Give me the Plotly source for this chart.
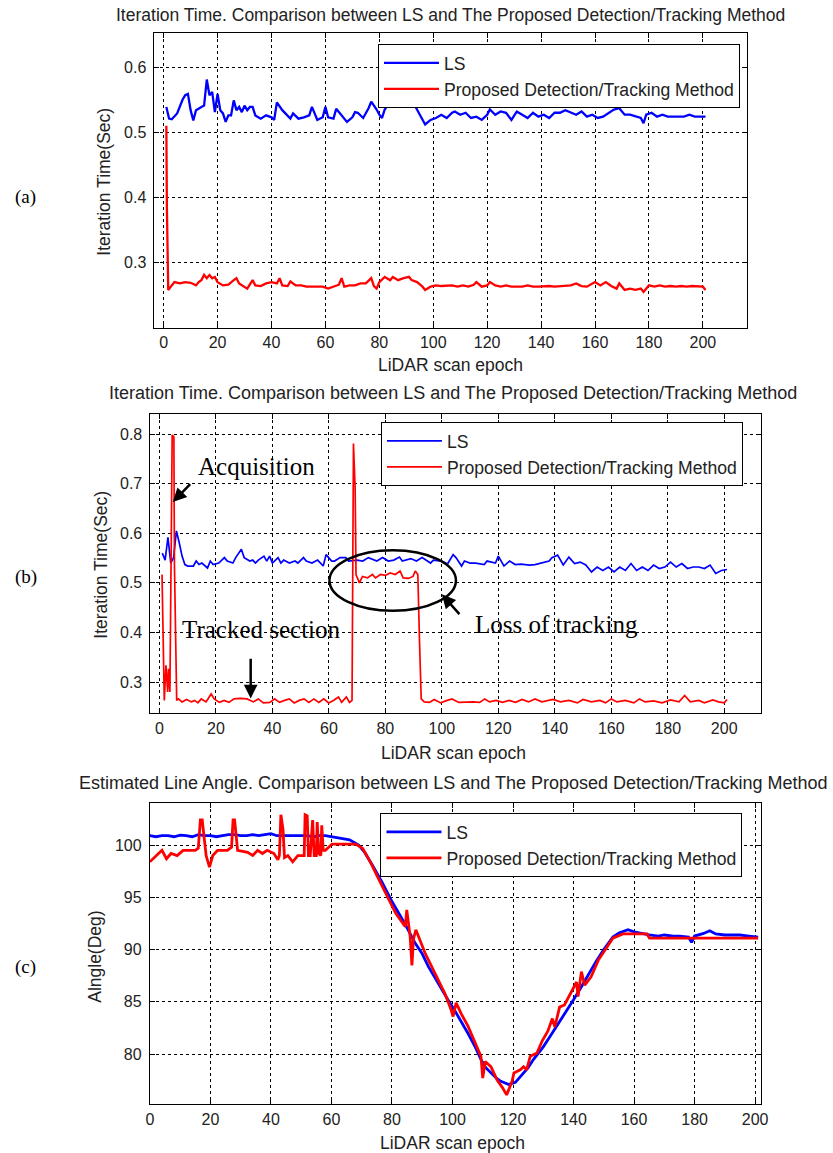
import plotly.graph_objects as go

# ---------------- data ----------------
# Panel (a): iteration time
A_LS_X = [1, 2, 3, 5, 7, 8, 9, 10, 11, 12, 14, 15, 16, 17, 18, 19, 20, 21, 22, 23, 24, 25, 26, 27, 28, 29, 30, 31,
          32, 33, 34, 36, 38, 40, 41, 42, 44, 46, 47, 48, 50, 52, 54, 55, 56, 57, 59, 60, 61, 63, 64, 66, 68, 70, 71,
          72, 74, 76, 77, 79, 80, 81, 82, 84, 85, 86, 88, 90, 91, 92, 94, 96, 97, 99, 101, 103, 105, 107, 108, 110,
          112, 114, 116, 118, 120, 121, 123, 125, 127, 129, 131, 133, 135, 137, 139, 141, 143, 145, 147, 149, 151,
          153, 155, 157, 159, 161, 163, 165, 167, 169, 171, 173, 175, 177, 178, 179, 181, 183, 185, 187, 190, 193,
          195, 197, 199, 201]
A_LS_Y = [0.539, 0.521, 0.520, 0.529, 0.550, 0.557, 0.559, 0.534, 0.518, 0.534, 0.539, 0.541, 0.581, 0.557, 0.562,
          0.531, 0.559, 0.534, 0.529, 0.516, 0.526, 0.526, 0.549, 0.534, 0.539, 0.531, 0.541, 0.534, 0.539, 0.539,
          0.526, 0.521, 0.526, 0.523, 0.519, 0.546, 0.534, 0.526, 0.521, 0.529, 0.521, 0.523, 0.526, 0.539, 0.529,
          0.519, 0.523, 0.539, 0.523, 0.521, 0.536, 0.526, 0.516, 0.523, 0.531, 0.530, 0.522, 0.537, 0.547, 0.535,
          0.527, 0.522, 0.535, 0.547, 0.545, 0.552, 0.550, 0.552, 0.545, 0.550, 0.535, 0.519, 0.512, 0.519, 0.522,
          0.527, 0.522, 0.530, 0.532, 0.527, 0.530, 0.522, 0.524, 0.519, 0.527, 0.535, 0.527, 0.532, 0.530, 0.519,
          0.532, 0.527, 0.522, 0.530, 0.524, 0.527, 0.522, 0.530, 0.530, 0.534, 0.530, 0.527, 0.532, 0.524, 0.527,
          0.522, 0.524, 0.530, 0.535, 0.537, 0.527, 0.527, 0.524, 0.522, 0.514, 0.527, 0.530, 0.524, 0.527, 0.524,
          0.524, 0.524, 0.527, 0.524, 0.524, 0.524]

A_PR_X = [1, 1.2, 1.7, 2.5, 4, 6, 8, 10, 12, 13, 14, 15, 16, 17, 18, 19, 20, 22, 24, 26, 27, 28, 30, 31, 33, 34, 36,
          38, 40, 42, 43, 44, 46, 47, 49, 51, 53, 55, 57, 59, 61, 63, 65, 66, 67, 69, 71, 73, 75, 77, 78, 79, 80, 82,
          84, 85, 87, 89, 91, 92, 94, 96, 97, 99, 101, 103, 105, 107, 109, 111, 113, 115, 116, 118, 120, 121, 123,
          125, 127, 129, 131, 133, 135, 137, 139, 141, 143, 145, 147, 149, 151, 153, 155, 157, 159, 160, 162, 164,
          166, 168, 169, 171, 173, 175, 177, 178, 180, 182, 184, 186, 188, 190, 192, 194, 196, 198, 200, 201]
A_PR_Y = [0.510, 0.385, 0.258, 0.262, 0.270, 0.268, 0.270, 0.269, 0.265, 0.270, 0.273, 0.281, 0.276, 0.281, 0.276,
          0.278, 0.270, 0.265, 0.266, 0.273, 0.276, 0.268, 0.263, 0.260, 0.273, 0.265, 0.264, 0.268, 0.270, 0.268,
          0.276, 0.265, 0.264, 0.271, 0.265, 0.265, 0.263, 0.263, 0.264, 0.263, 0.260, 0.263, 0.266, 0.276, 0.263,
          0.265, 0.265, 0.268, 0.268, 0.276, 0.264, 0.260, 0.270, 0.278, 0.273, 0.278, 0.273, 0.276, 0.278, 0.273,
          0.270, 0.263, 0.258, 0.263, 0.265, 0.264, 0.264, 0.265, 0.263, 0.265, 0.263, 0.266, 0.270, 0.263, 0.265,
          0.270, 0.265, 0.263, 0.265, 0.263, 0.263, 0.263, 0.265, 0.263, 0.263, 0.264, 0.264, 0.263, 0.264, 0.265,
          0.265, 0.268, 0.264, 0.263, 0.268, 0.270, 0.265, 0.270, 0.264, 0.260, 0.268, 0.258, 0.260, 0.258, 0.260,
          0.255, 0.265, 0.263, 0.265, 0.263, 0.264, 0.263, 0.264, 0.263, 0.264, 0.264, 0.263, 0.258]

# Panel (b): iteration time with loss of tracking
B_LS_X = [1, 2, 3, 4, 5, 6, 7, 8, 9, 10, 12, 13, 14, 15, 17, 18, 19, 21, 23, 24, 26, 27, 29, 30, 32, 33, 34, 35,
          37, 38, 39, 40, 42, 43, 44, 46, 48, 49, 51, 52, 54, 56, 58, 59, 61, 62, 64, 66, 67, 70, 72, 74, 77, 79,
          81, 83, 85, 86, 89, 91, 93, 96, 97, 100, 102, 104, 105, 107, 108, 110, 112, 115, 116, 119, 120, 122, 124,
          126, 128, 131, 133, 135, 138, 139, 141, 143, 145, 147, 149, 151, 153, 155, 157, 159, 161, 163, 165, 167,
          169, 171, 173, 175, 177, 179, 181, 183, 185, 187, 189, 191, 193, 195, 197, 199, 201]
B_LS_Y = [0.560, 0.546, 0.592, 0.540, 0.551, 0.605, 0.581, 0.554, 0.537, 0.534, 0.534, 0.544, 0.537, 0.540, 0.530,
          0.544, 0.537, 0.540, 0.551, 0.544, 0.540, 0.551, 0.568, 0.551, 0.544, 0.546, 0.540, 0.546, 0.554, 0.544,
          0.554, 0.540, 0.551, 0.540, 0.546, 0.540, 0.544, 0.540, 0.551, 0.544, 0.540, 0.546, 0.534, 0.557, 0.544,
          0.544, 0.551, 0.551, 0.544, 0.546, 0.544, 0.551, 0.544, 0.551, 0.544, 0.546, 0.552, 0.544, 0.549, 0.544,
          0.551, 0.540, 0.546, 0.544, 0.538, 0.557, 0.551, 0.534, 0.544, 0.540, 0.540, 0.537, 0.544, 0.540, 0.554,
          0.534, 0.544, 0.537, 0.538, 0.536, 0.537, 0.540, 0.544, 0.551, 0.556, 0.536, 0.552, 0.539, 0.542, 0.536,
          0.522, 0.532, 0.525, 0.532, 0.522, 0.532, 0.525, 0.539, 0.525, 0.532, 0.525, 0.536, 0.529, 0.532, 0.542,
          0.532, 0.539, 0.529, 0.532, 0.532, 0.529, 0.536, 0.519, 0.525, 0.527]

B_PR_X = [0.9, 1.3, 1.7, 2.3, 2.9, 3.2, 3.7, 4.5, 5.1, 5.3, 6.1, 6.7, 8.0, 9.6, 11.3, 12.5, 13.6, 14.8, 16.5, 18.3,
          19.4, 21.2, 22.9, 24.6, 26.4, 28.7, 31.0, 33.3, 35.0, 36.8, 39.1, 40.8, 42.5, 44.3, 46.0, 47.7, 49.5,
          51.2, 52.9, 54.7, 56.4, 58.2, 59.9, 61.6, 63.4, 64.5, 66.2, 67.3, 68.2, 68.7, 69.3, 69.6, 70.2, 70.8,
          71.9, 73.7, 75.4, 76.5, 78.3, 80.0, 81.7, 83.5, 85.2, 86.3, 88.1, 89.8, 90.6, 91.5, 92.1, 92.7, 93.8,
          95.6, 97.3, 99.6, 101.9, 103.6, 106.0, 108.8, 111.1, 113.4, 115.2, 116.9, 119.2, 121.5, 123.8, 126.1,
          128.4, 130.7, 133.0, 135.4, 137.7, 139.4, 142, 145, 148, 150, 153, 156, 158, 160, 162, 165, 168, 170, 172,
          175, 178, 181, 184, 186, 188, 191, 193, 196, 198, 200, 201]
B_PR_Y = [0.517, 0.395, 0.263, 0.334, 0.280, 0.327, 0.280, 0.798, 0.795, 0.537, 0.263, 0.266, 0.260, 0.265, 0.260,
          0.263, 0.258, 0.266, 0.260, 0.276, 0.266, 0.259, 0.263, 0.259, 0.266, 0.267, 0.266, 0.260, 0.266, 0.258,
          0.259, 0.266, 0.259, 0.263, 0.266, 0.258, 0.263, 0.266, 0.259, 0.266, 0.259, 0.266, 0.258, 0.263, 0.270,
          0.259, 0.270, 0.259, 0.263, 0.781, 0.690, 0.517, 0.510, 0.500, 0.513, 0.510, 0.517, 0.510, 0.517, 0.515,
          0.520, 0.517, 0.524, 0.510, 0.509, 0.513, 0.524, 0.517, 0.381, 0.266, 0.260, 0.259, 0.265, 0.258, 0.263,
          0.266, 0.259, 0.260, 0.260, 0.259, 0.266, 0.260, 0.263, 0.259, 0.263, 0.259, 0.265, 0.260, 0.266, 0.260,
          0.263, 0.265, 0.260, 0.263, 0.258, 0.265, 0.260, 0.263, 0.258, 0.266, 0.260, 0.263, 0.258, 0.266, 0.260,
          0.262, 0.258, 0.264, 0.260, 0.273, 0.260, 0.263, 0.258, 0.264, 0.260, 0.258, 0.265]

# Panel (c): estimated line angle
C_LS_X = [0, 2, 4, 6, 8, 10, 12, 14, 16, 18, 20, 22, 24, 26, 28, 30, 32, 34, 36, 38, 40, 42, 44, 46, 48, 50, 52,
          54, 56, 58, 60, 63, 66, 69, 71, 73.5, 76.8, 80, 82, 84.4, 87.7, 90, 92, 94, 96.4, 98.5, 100.7, 103,
          105.1, 107.5, 109.4, 111, 112.7, 114.5, 116, 118.6, 120.8, 122, 123.5, 125, 126.8, 130, 132.5, 135,
          137.5, 140, 142.5, 145, 147.5, 150, 153, 155, 158, 160, 163, 165, 168, 170, 173, 175, 178, 179, 180,
          183, 185, 187, 190, 193, 195, 198, 201]
C_LS_Y = [100.9, 100.8, 100.9, 100.9, 100.8, 100.95, 100.9, 100.8, 101.0, 100.9, 100.9, 100.8, 100.9, 101.0, 101.0,
          100.9, 100.9, 101.0, 100.9, 101.0, 101.1, 100.9, 100.9, 100.9, 100.9, 100.9, 100.9, 100.8, 100.9, 100.9,
          100.8, 100.7, 100.5, 100.0, 99.3, 98.1, 96.4, 94.6, 93.6, 92.4, 90.6, 89.6, 88.4, 87.4, 86.2, 85.2, 84.2,
          83.1, 82.0, 80.7, 79.5, 78.7, 78.2, 77.7, 77.4, 77.1, 77.3, 77.7, 78.2, 78.7, 79.5, 80.7, 81.8, 82.9,
          84.0, 85.2, 86.4, 87.7, 88.9, 90.0, 91.2, 91.6, 91.9, 91.7, 91.5, 91.4, 91.3, 91.4, 91.3, 91.3, 91.2,
          90.7, 91.3, 91.55, 91.8, 91.5, 91.4, 91.4, 91.4, 91.3, 91.2]

C_PR_X = [0, 1, 2, 4, 5.5, 7, 9, 11, 13, 15, 16, 16.7, 17.3, 18, 18.6, 19.7, 20.8, 22.4, 25.6, 27, 27.5, 28, 28.6,
          29, 32.3, 34, 35.6, 37.2, 38.8, 41, 42.3, 42.8, 43.3, 44, 44.5, 45.6, 47.2, 48.9, 51, 51.3, 52, 52.4, 53,
          53.8, 54.3, 55, 55.3, 55.8, 56.5, 56.8, 57.3, 58, 60.2, 62, 65, 68, 70.3, 73, 75.7, 79, 81.2, 84.4, 84.9,
          86, 86.6, 87.1, 87.9, 90.9, 93, 95.3, 97.5, 99.6, 100.2, 101.2, 103, 105.1, 107, 109.4, 110, 110.8,
          112.7, 114.8, 116.5, 117.9, 119.7, 120.3, 122.4, 123.5, 124.5, 125.7, 127.9, 129.7, 131.5, 133, 133.8,
          135.4, 137, 139.4, 141, 141.5, 142.6, 143.7, 145.8, 148.2, 150.6, 153, 156.3, 160.3, 164.3, 165.1, 170,
          180, 190, 201]
C_PR_Y = [98.4, 98.7, 99.0, 99.5, 98.7, 99.2, 99.0, 99.5, 99.5, 99.5, 99.7, 102.4, 102.4, 100.6, 99.0, 97.9, 99.0,
          99.5, 99.5, 99.8, 102.4, 102.4, 100.4, 99.5, 99.3, 99.0, 99.5, 99.2, 99.5, 99.2, 98.6, 99.0, 102.9, 101.5,
          98.8, 99.0, 98.4, 99.0, 99.0, 102.9, 102.8, 99.0, 99.0, 102.4, 99.0, 99.0, 102.2, 99.2, 99.0, 101.9, 99.5,
          99.5, 100.1, 100.1, 100.1, 100.1, 99.7, 98.3, 96.7, 94.8, 93.5, 92.2, 93.8, 91.3, 88.5, 91.0, 91.9, 89.7,
          88.5, 87.1, 85.8, 84.2, 83.6, 84.9, 83.8, 82.7, 81.4, 79.8, 77.7, 79.3, 78.8, 77.5, 76.8, 76.1, 77.4,
          78.2, 78.5, 78.8, 78.5, 79.8, 80.1, 81.3, 82.2, 83.4, 82.6, 84.5, 84.7, 86.1, 86.9, 85.5, 87.9, 86.6,
          87.4, 89.0, 90.1, 91.1, 91.5, 91.5, 91.5, 91.1, 91.1, 91.1, 91.1, 91.1]

X_TICKS = [0, 20, 40, 60, 80, 100, 120, 140, 160, 180, 200]
A_Y_TICKS = [0.3, 0.4, 0.5, 0.6]
B_Y_TICKS = [0.3, 0.4, 0.5, 0.6, 0.7, 0.8]
C_Y_TICKS = [80, 85, 90, 95, 100]

NAME_LS = "LS"
NAME_PR = "Proposed Detection/Tracking Method"
TITLE_IT = "Iteration Time. Comparison between LS and The Proposed Detection/Tracking Method"
TITLE_ANG = "Estimated Line Angle. Comparison between LS and The Proposed Detection/Tracking Method"

# ---------------- layout helpers ----------------
W, H = 833, 1153
SANS = "Liberation Sans, Arial, Helvetica, sans-serif"
SERIF = "Liberation Serif, Times New Roman, serif"
BLUE, RED = "#0000ff", "#ff0000"


def xd(l, r):
    return [l / W, r / W]


def yd(t, b):
    return [1 - b / H, 1 - t / H]


def px(x):
    return x / W


def py(y):
    return 1 - y / H


fig = go.Figure()

panels = [
    ("", A_LS_X, A_LS_Y, A_PR_X, A_PR_Y, 2.3, "legend"),
    ("2", B_LS_X, B_LS_Y, B_PR_X, B_PR_Y, 1.7, "legend2"),
    ("3", C_LS_X, C_LS_Y, C_PR_X, C_PR_Y, 2.8, "legend3"),
]
for suf, lx, ly, rx, ry, lw, leg in panels:
    fig.add_trace(go.Scatter(x=lx, y=ly, mode="lines", name=NAME_LS, line=dict(color=BLUE, width=lw),
                             xaxis="x" + suf, yaxis="y" + suf, legend=leg))
    fig.add_trace(go.Scatter(x=rx, y=ry, mode="lines", name=NAME_PR, line=dict(color=RED, width=lw),
                             xaxis="x" + suf, yaxis="y" + suf, legend=leg))

axis_common = dict(showline=True, linecolor="#000", linewidth=1, mirror="ticks", ticks="inside", ticklen=5,
                   tickcolor="#000", showgrid=True, gridcolor="#000", gridwidth=1, griddash="3px,3px",
                   zeroline=False, tickfont=dict(family=SANS, size=16, color="#222"))

boxes = {
    "": (152.5, 753, 33.3, 327.7, [-3.4, 216.4], [0.2, 0.652], A_Y_TICKS, ["0.3", "0.4", "0.5", "0.6"]),
    "2": (148.4, 767.6, 414.3, 713.3, [-3.2, 213.2], [0.237, 0.84], B_Y_TICKS,
          ["0.3", "0.4", "0.5", "0.6", "0.7", "0.8"]),
    "3": (147.8, 767.6, 803.3, 1104.3, [0, 202.1], [75.2, 104.0], C_Y_TICKS, [str(v) for v in C_Y_TICKS]),
}
layout = dict(width=W, height=H, margin=dict(l=0, r=0, t=0, b=0), autosize=False,
              paper_bgcolor="white", plot_bgcolor="white", showlegend=True)
for suf, (l, r, t, b, xr, yr, yt, ytt) in boxes.items():
    layout["xaxis" + suf] = dict(axis_common, domain=xd(l, r), range=xr, tickvals=X_TICKS,
                                 anchor="y" + suf)
    layout["yaxis" + suf] = dict(axis_common, domain=yd(t, b), range=yr, tickvals=yt, ticktext=ytt,
                                 anchor="x" + suf, ticklabelstandoff=4)

leg_common = dict(bgcolor="white", bordercolor="#000", borderwidth=1, font=dict(family=SANS, size=17.6, color="#222"),
                  itemwidth=55, xanchor="left", yanchor="top", tracegroupgap=0)
layout["legend"] = dict(leg_common, x=px(379), y=py(44))
layout["legend2"] = dict(leg_common, x=px(382), y=py(422))
layout["legend3"] = dict(leg_common, x=px(381.5), y=py(813))
fig.update_layout(**layout)

ann = []


def text(x, y, s, size=17.5, angle=0, family=SANS, color="#222"):
    ann.append(dict(x=px(x), y=py(y), xref="paper", yref="paper", text=s, showarrow=False, textangle=angle,
                    font=dict(family=family, size=size, color=color), xanchor="center", yanchor="middle"))


# titles & axis labels
text(452, 15, TITLE_IT)
text(455, 393, TITLE_IT, size=18)
text(455, 783, TITLE_ANG, size=18)
text(452, 365, "LiDAR scan epoch")
text(456, 753, "LiDAR scan epoch")
text(455, 1143, "LiDAR scan epoch")
text(101, 182, "Iteration Time(Sec)", angle=-90)
text(98, 565, "Iteration Time(Sec)", angle=-90)
text(92, 957, "Alngle(Deg)", angle=-90)
# panel letters
text(22, 197, "(a)", size=19, family=SERIF, color="#000")
text(22, 577, "(b)", size=19, family=SERIF, color="#000")
text(22, 967, "(c)", size=19, family=SERIF, color="#000")

# annotations of panel (b)
for s, x, y in [("Acquisition", 34.3, 0.734), ("Tracked section", 36.0, 0.407), ("Loss of tracking", 140.5, 0.417)]:
    ann.append(dict(x=x, y=y, xref="x2", yref="y2", text=s, showarrow=False,
                    font=dict(family=SERIF, size=25, color="#000"), xanchor="center", yanchor="middle"))
for hx, hy, tx, ty in [(4.7, 0.663, 11.4, 0.702), (32.3, 0.267, 32.3, 0.35), (100.0, 0.477, 106.7, 0.434)]:
    ann.append(dict(x=hx, y=hy, xref="x2", yref="y2", ax=tx, ay=ty, axref="x2", ayref="y2", text="",
                    showarrow=True, arrowhead=2, arrowsize=1.1, arrowwidth=2.5, arrowcolor="#000"))
fig.update_layout(annotations=ann)
fig.add_shape(type="circle", xref="x2", yref="y2", x0=60.2, x1=105, y0=0.444, y1=0.566,
              line=dict(color="#000", width=2.5))

fig.write_html("out.html")
